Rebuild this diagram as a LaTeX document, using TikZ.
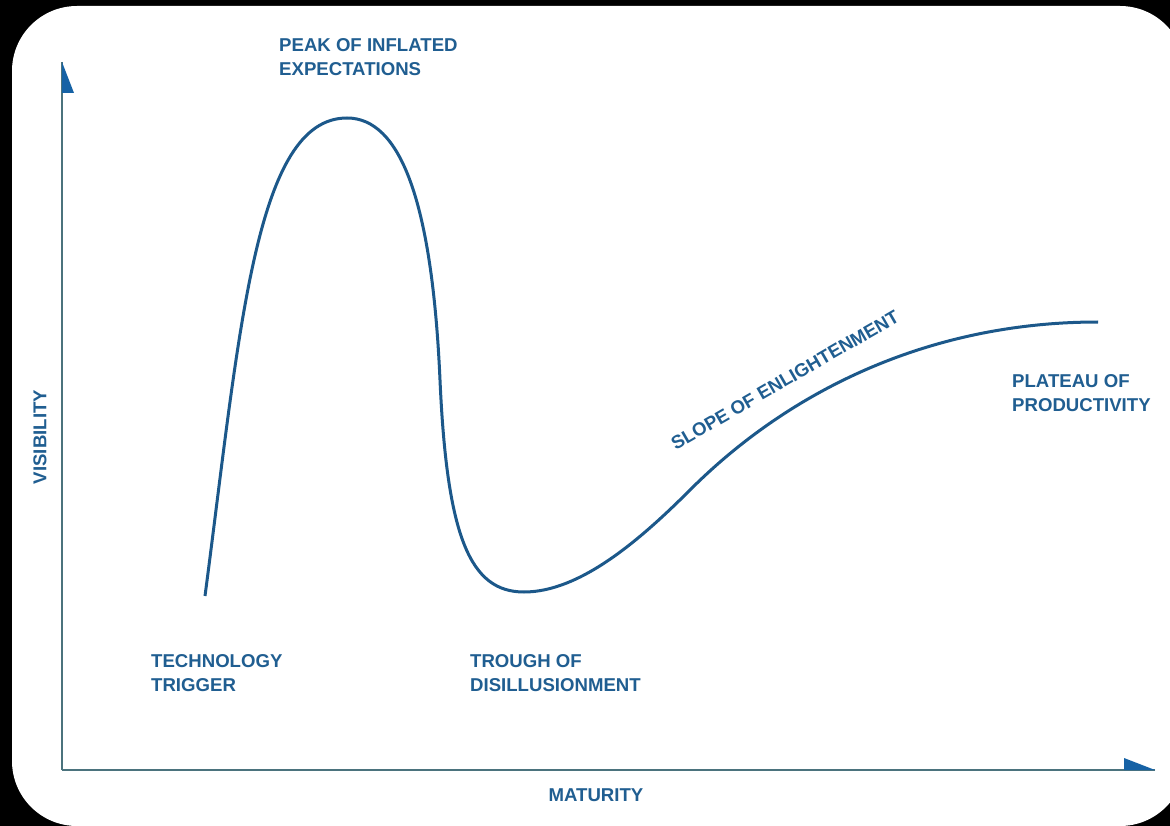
\documentclass[tikz,border=0pt]{standalone}
\usepackage{fontspec}
\setmainfont{Liberation Sans}
\definecolor{txtblue}{RGB}{32,94,145}
\definecolor{curveblue}{RGB}{28,88,138}
\definecolor{axisgrey}{RGB}{75,115,125}
\definecolor{arrowblue}{RGB}{22,98,165}
\tikzset{
  lbl/.style={text=txtblue, font=\fontsize{18.6}{24}\selectfont\bfseries, align=left, inner sep=0pt},
  axisline/.style={draw=axisgrey, line width=2pt},
  hypecurve/.style={draw=curveblue, line width=3pt},
  headfill/.style={fill=arrowblue},
}
\begin{document}
\begin{tikzpicture}[x=1pt,y=-1pt]
\useasboundingbox (0,0) rectangle (1170,826);
\fill[black] (0,0) rectangle (1170,826);
\begin{scope}
\clip (0,0) rectangle (1170,826);
\fill[white, rounded corners=65pt] (12,6) rectangle (1185,826);
\end{scope}

% axes
\coordinate (origin) at (62,770);
\coordinate (ytip) at (62,62);
\coordinate (xtip) at (1155,770);
\draw[axisline] (origin) -- (ytip);
\draw[axisline] (origin) -- (xtip);
\fill[headfill] (ytip) -- (62,93) -- (74,93) -- cycle;
\fill[headfill] (xtip) -- (1124,770) -- (1124,758) -- cycle;

% hype curve
\coordinate (start) at (205,596);
\coordinate (top) at (347,118);
\coordinate (fall) at (440,380);
\coordinate (bottom) at (524,592);
\coordinate (rise) at (690,490);
\coordinate (finish) at (1098,322);
\draw[hypecurve] (start) .. controls (240,330) and (255,118) .. (top)
  .. controls (400,118) and (432,200) .. (fall)
  .. controls (447,537) and (470,592) .. (bottom)
  .. controls (580,592) and (640,540) .. (rise)
  .. controls (790,390) and (930,322) .. (finish);

% labels
\node[lbl, anchor=west] (peak) at (279,57) {PEAK OF INFLATED\\EXPECTATIONS};
\node[lbl, anchor=west] (trigger) at (151,673) {TECHNOLOGY\\TRIGGER};
\node[lbl, anchor=west] (trough) at (470,673) {TROUGH OF\\DISILLUSIONMENT};
\node[lbl, anchor=west] (plateau) at (1012,393) {PLATEAU OF\\PRODUCTIVITY};
\node[lbl, rotate=30] (slope) at (785,380) {SLOPE OF ENLIGHTENMENT};
\node[lbl] (maturity) at (596,795) {MATURITY};
\node[lbl, rotate=90] (visibility) at (40,437) {VISIBILITY};
\end{tikzpicture}
\end{document}
